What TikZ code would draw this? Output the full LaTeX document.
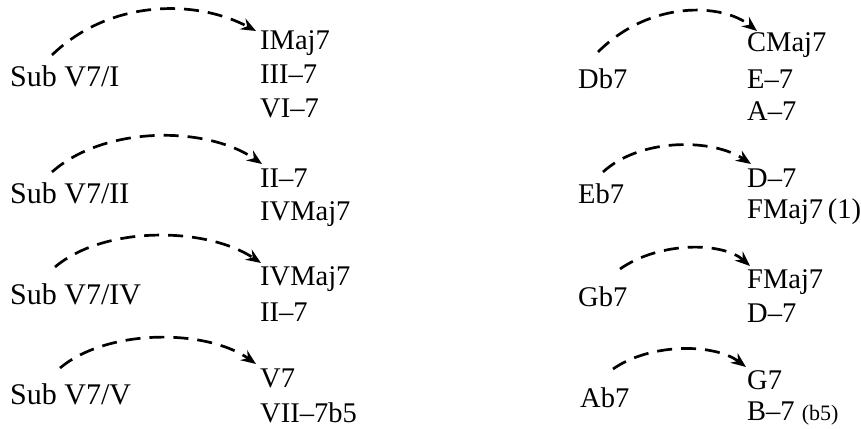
\documentclass[tikz,border=0pt]{standalone}
\usepackage{fontspec}
\setmainfont{Liberation Serif}
\usetikzlibrary{arrows.meta}
\begin{document}
\begin{tikzpicture}[x=1pt,y=-1pt,
  chord/.style={inner sep=0pt,anchor=base west,font=\fontsize{28.5pt}{34pt}\selectfont},
  sublabel/.style={chord,font=\fontsize{30pt}{36pt}\selectfont},
  arr/.style={line width=2.7pt,dash pattern=on 15pt off 9pt,-{Stealth[length=15pt,width=12pt,inset=5pt]}}]
\useasboundingbox (0,0) rectangle (861,428);
% left column
\node[sublabel] (s1) at (10,86) {Sub V7/I};
\node[chord] (t1a) at (260,50) {IMaj7};
\node[chord] (t1b) at (260,83) {III–7};
\node[chord] (t1c) at (260,117) {VI–7};
\node[sublabel] (s2) at (10,203) {Sub V7/II};
\node[chord] (t2a) at (260,187) {II–7};
\node[chord] (t2b) at (260,220) {IVMaj7};
\node[sublabel] (s3) at (10,304) {Sub V7/IV};
\node[chord] (t3a) at (260,285) {IVMaj7};
\node[chord] (t3b) at (260,321) {II–7};
\node[sublabel] (s4) at (10,404) {Sub V7/V};
\node[chord] (t4a) at (260,387) {V7};
\node[chord] (t4b) at (260,422) {VII–7b5};
% right column
\node[chord] (d1) at (578,88) {Db7};
\node[chord] (u1a) at (747,52) {CMaj7};
\node[chord] (u1b) at (747,88) {E–7};
\node[chord] (u1c) at (747,120) {A–7};
\node[chord] (d2) at (578,203) {Eb7};
\node[chord] (u2a) at (747,187) {D–7};
\node[chord] (u2b) at (747,218) {FMaj7\,(1)};
\node[chord] (d3) at (578,306) {Gb7};
\node[chord] (u3a) at (747,288) {FMaj7};
\node[chord] (u3b) at (747,322) {D–7};
\node[chord] (d4) at (580,407) {Ab7};
\node[chord] (u4a) at (747,389) {G7};
\node[chord] (u4b) at (747,420) {B–7 {\fontsize{22pt}{26pt}\selectfont(b5)}};
% arrows
\draw[arr] ([shift={(42,-31)}]s1.base west) .. controls +(58,-56) and +(-60,-32) .. ([shift={(-4,-19)}]t1a.base west);
\draw[arr] ([shift={(42,-31)}]s2.base west) .. controls +(53,-47) and +(-55,-38) .. ([shift={(2,-23)}]t2a.base west);
\draw[arr] ([shift={(45,-37)}]s3.base west) .. controls +(50,-42) and +(-54,-36) .. ([shift={(1,-22)}]t3a.base west);
\draw[arr] ([shift={(50,-36)}]s4.base west) .. controls +(48,-40) and +(-49,-35) .. ([shift={(-4,-23)}]t4a.base west);
\draw[arr] ([shift={(20,-36)}]d1.base west) .. controls +(52,-52) and +(-35,-28) .. ([shift={(10,-21)}]u1a.base west);
\draw[arr] ([shift={(25,-31)}]d2.base west) .. controls +(37,-34) and +(-39,-26) .. ([shift={(4,-23)}]u2a.base west);
\draw[arr] ([shift={(42,-37)}]d3.base west) .. controls +(40,-28) and +(-27,-24) .. ([shift={(3,-22)}]u3a.base west);
\draw[arr] ([shift={(33,-38)}]d4.base west) .. controls +(37,-26) and +(-32,-24) .. ([shift={(-1,-22)}]u4a.base west);
\end{tikzpicture}
\end{document}
